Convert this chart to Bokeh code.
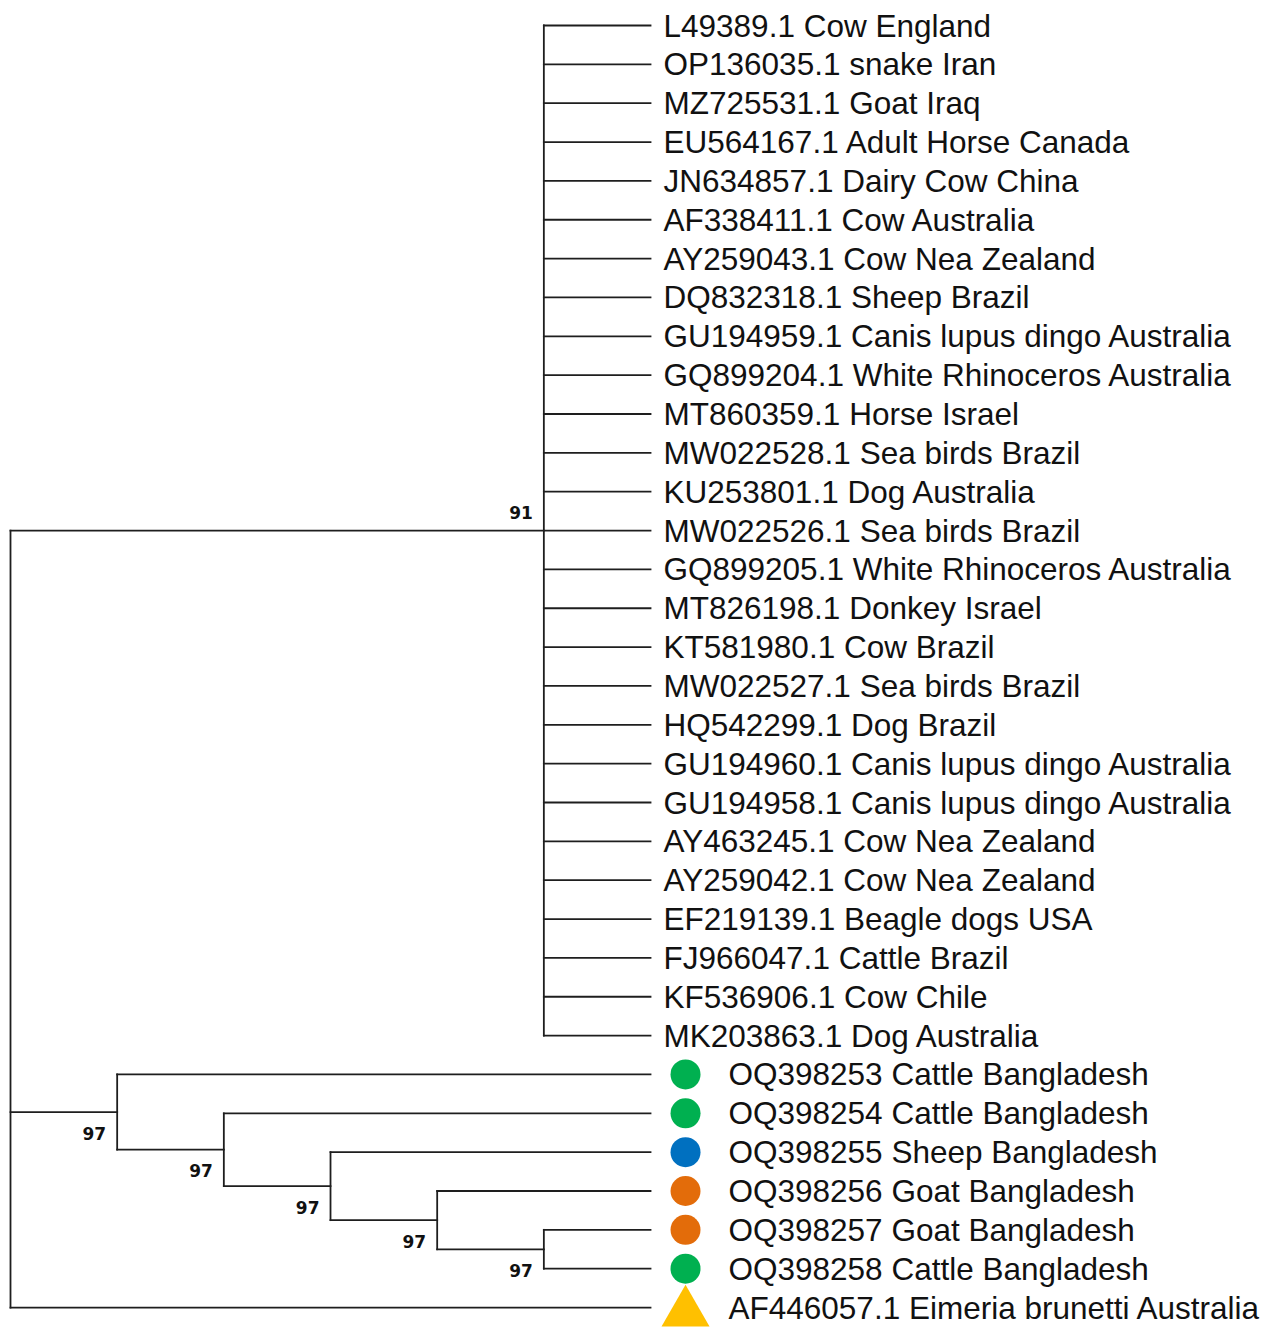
from bokeh.plotting import figure
from bokeh.models import Range1d, ColumnDataSource
from bokeh.embed import file_html
from bokeh.resources import INLINE
from bokeh.core.properties import value

# ---------------- data ----------------
LEAF_NAMES = [
    "L49389.1 Cow England",
    "OP136035.1 snake Iran",
    "MZ725531.1 Goat Iraq",
    "EU564167.1 Adult Horse Canada",
    "JN634857.1 Dairy Cow China",
    "AF338411.1 Cow Australia",
    "AY259043.1 Cow Nea Zealand",
    "DQ832318.1 Sheep Brazil",
    "GU194959.1 Canis lupus dingo Australia",
    "GQ899204.1 White Rhinoceros Australia",
    "MT860359.1 Horse Israel",
    "MW022528.1 Sea birds Brazil",
    "KU253801.1 Dog Australia",
    "MW022526.1 Sea birds Brazil",
    "GQ899205.1 White Rhinoceros Australia",
    "MT826198.1 Donkey Israel",
    "KT581980.1 Cow Brazil",
    "MW022527.1 Sea birds Brazil",
    "HQ542299.1 Dog Brazil",
    "GU194960.1 Canis lupus dingo Australia",
    "GU194958.1 Canis lupus dingo Australia",
    "AY463245.1 Cow Nea Zealand",
    "AY259042.1 Cow Nea Zealand",
    "EF219139.1 Beagle dogs USA",
    "FJ966047.1 Cattle Brazil",
    "KF536906.1 Cow Chile",
    "MK203863.1 Dog Australia",
    "OQ398253 Cattle Bangladesh",
    "OQ398254 Cattle Bangladesh",
    "OQ398255 Sheep Bangladesh",
    "OQ398256 Goat Bangladesh",
    "OQ398257 Goat Bangladesh",
    "OQ398258 Cattle Bangladesh",
    "AF446057.1 Eimeria brunetti Australia",
]

# tree topology as nested lists of leaf indices
CLADE_MAIN = [0, 1, 2, 3, 4, 5, 6, 7, 8, 9, 10, 11, 12, 13, 14, 15, 16,
              17, 18, 19, 20, 21, 22, 23, 24, 25, 26]
CLADE_BD = [27, [28, [29, [30, [31, 32]]]]]
TREE = [CLADE_MAIN, CLADE_BD, 33]

# bootstrap values for internal nodes (pre-order, root excluded)
BOOTSTRAP = [91, 97, 97, 97, 97, 97]
BOOT_ABOVE = [True, False, False, False, False, False]

# marked leaves
MARKED_LEAVES = [27, 28, 29, 30, 31, 32, 33]
MARKER_TYPES = ["circle", "circle", "circle", "circle", "circle", "circle", "triangle"]
MARKER_COLORS = ["#00B050", "#00B050", "#0070C0", "#E36C0A", "#E36C0A", "#00B050", "#FFC000"]

# ---------------- layout ----------------
W, H = 1272, 1328
LEVEL_PX = 106.67
ROW_PX = 38.85
ROOT_SX = 10     # root position in figure px
LEAF0_SY = 25    # first leaf position in figure px


def layout(node):
    if isinstance(node, int):
        return {"y": float(node), "h": 0, "kids": []}
    kids = [layout(c) for c in node]
    h = 1 + max(k["h"] for k in kids)
    y = (kids[0]["y"] + kids[-1]["y"]) / 2.0
    return {"y": y, "h": h, "kids": kids}


root = layout(TREE)
MAXH = root["h"]

seg = {"x0": [], "y0": [], "x1": [], "y1": []}
internal = []


def walk(n):
    x = MAXH - n["h"]
    if not n["kids"]:
        return
    internal.append((x, n["y"]))
    ys = [k["y"] for k in n["kids"]]
    seg["x0"].append(x); seg["y0"].append(min(ys))
    seg["x1"].append(x); seg["y1"].append(max(ys))
    for k in n["kids"]:
        seg["x0"].append(x); seg["y0"].append(k["y"])
        seg["x1"].append(MAXH - k["h"]); seg["y1"].append(k["y"])
        walk(k)


walk(root)

x_start = -ROOT_SX / LEVEL_PX
y_top = -LEAF0_SY / ROW_PX
p = figure(width=W, height=H, output_backend="svg", toolbar_location=None,
           x_range=Range1d(x_start, x_start + W / LEVEL_PX),
           y_range=Range1d(y_top + H / ROW_PX, y_top),
           x_axis_location=None, y_axis_location=None, min_border=0)
p.grid.visible = False
p.outline_line_color = None
p.background_fill_color = "white"
p.border_fill_color = "white"

p.segment(x0="x0", y0="y0", x1="x1", y1="y1", source=ColumnDataSource(seg),
          line_color="#1e1e1e", line_width=1.8, line_cap="square")

# leaf labels
plain = [i for i in range(len(LEAF_NAMES)) if i not in MARKED_LEAVES]
p.text(x=[MAXH] * len(plain), y=plain, text=[LEAF_NAMES[i] for i in plain],
       x_offset=13, text_baseline="middle", text_align="left",
       text_font=value("Liberation Sans"), text_font_size="31.5px", text_color="#111111")
p.text(x=[MAXH] * len(MARKED_LEAVES), y=MARKED_LEAVES,
       text=[LEAF_NAMES[i] for i in MARKED_LEAVES],
       x_offset=78, text_baseline="middle", text_align="left",
       text_font=value("Liberation Sans"), text_font_size="31.5px", text_color="#111111")

# markers
mk_dx = 35 / LEVEL_PX
tri_dy = 5 / ROW_PX
for i, m, c in zip(MARKED_LEAVES, MARKER_TYPES, MARKER_COLORS):
    if m == "circle":
        p.scatter(x=[MAXH + mk_dx], y=[i], marker="circle", size=30,
                  fill_color=c, line_color=None)
    else:
        p.scatter(x=[MAXH + mk_dx], y=[i + tri_dy], marker="triangle", size=48,
                  fill_color=c, line_color=None)

# bootstrap labels
nodes = internal[1:]
bx = [n[0] for n in nodes]
by = [n[1] for n in nodes]
boff = [-18 if a else 21 for a in BOOT_ABOVE]
p.text(x=bx, y=by, text=[str(b) for b in BOOTSTRAP], x_offset=-11, y_offset=boff,
       text_align="right", text_baseline="middle",
       text_font=value("DejaVu Sans"), text_font_style="bold",
       text_font_size="17px", text_color="#111111")

open("out.html", "w").write(file_html(p, INLINE))
